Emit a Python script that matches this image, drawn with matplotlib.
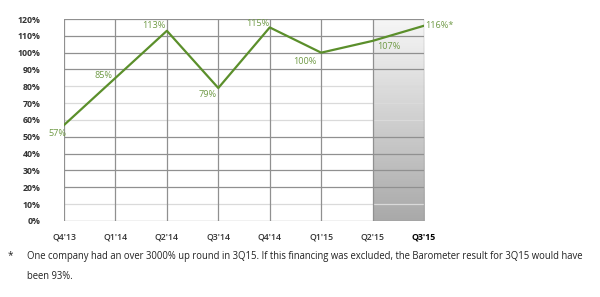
import numpy as np
import matplotlib.pyplot as plt
from matplotlib.colors import LinearSegmentedColormap

plt.rcParams['font.family'] = ['Open Sans', 'DejaVu Sans']

# Datos del barómetro
trimestres = ["Q4'13", "Q1'14", "Q2'14", "Q3'14", "Q4'14", "Q1'15", "Q2'15", "Q3'15"]
valores = [57, 85, 113, 79, 115, 100, 107, 116]
etiquetas = ["57%", "85%", "113%", "79%", "115%", "100%", "107%", "116%*"]
y_ticks = list(range(0, 121, 10))

verde = "#5b8f2b"
verde_txt = "#6f9a45"

fig = plt.figure(figsize=(6, 2.97), dpi=100)
ax = fig.add_axes([0.1067, 0.256, 0.6, 0.68])

x = np.arange(len(trimestres))

# Zona sombreada del último trimestre (degradado)
cmap = LinearSegmentedColormap.from_list("gris", ["#a9a9a9", "#f6f6f6"])
grad = np.linspace(0, 1, 256).reshape(-1, 1)
ax.imshow(grad, extent=[x[-2], x[-1], 0, 120], origin="lower", cmap=cmap,
          aspect="auto", zorder=0)

# Rejilla
for v in y_ticks:
    c = "#dadada" if v in (10, 60, 70, 80) else "#909090"
    ax.axhline(v, color=c, lw=0.9, zorder=1)
for xi in x:
    ax.axvline(xi, color="#909090", lw=0.9, zorder=1)

ax.plot(x, valores, color=verde, lw=1.6, zorder=3)

# desplazamientos de las etiquetas (puntos)
offsets = [(-5, -6, "center"), (-2, 2, "right"), (-1, 4, "right"), (-8, -5, "center"),
           (0, 3, "right"), (-3, -6, "right"), (3, -4, "left"), (1, 0, "left")]
for xi, v, lab, (dx, dy, ha) in zip(x, valores, etiquetas, offsets):
    ax.annotate(lab, (xi, v), xytext=(dx, dy), textcoords="offset points",
                ha=ha, va="center", color=verde_txt, fontsize=6.6, zorder=4)

ax.set_xlim(x[0], x[-1])
ax.set_ylim(0, 120)
ax.set_yticks(y_ticks)
ax.set_yticklabels([f"{v}%" for v in y_ticks], fontsize=6.3, color="#333333",
                   fontweight="bold")
ax.set_xticks(x)
ax.set_xticklabels(trimestres, fontsize=6.3, color="#333333", fontweight="semibold")
ax.get_xticklabels()[-1].set_fontweight("bold")
ax.get_xticklabels()[-1].set_color("#000000")
ax.tick_params(length=0)
ax.tick_params(axis="x", pad=8)
ax.tick_params(axis="y", pad=17)
for s in ax.spines.values():
    s.set_visible(False)

fig.text(0.013, 0.14, "*", fontsize=7.2, color="#222222", va="center")
fig.text(0.045, 0.135, "One company had an over 3000% up round in 3Q15. If this financing was "
         "excluded, the Barometer result for 3Q15 would have", fontsize=6.85,
         color="#222222", va="center")
fig.text(0.045, 0.07, "been 93%.", fontsize=6.85, color="#222222", va="center")

fig.savefig("out.png", dpi=100)
